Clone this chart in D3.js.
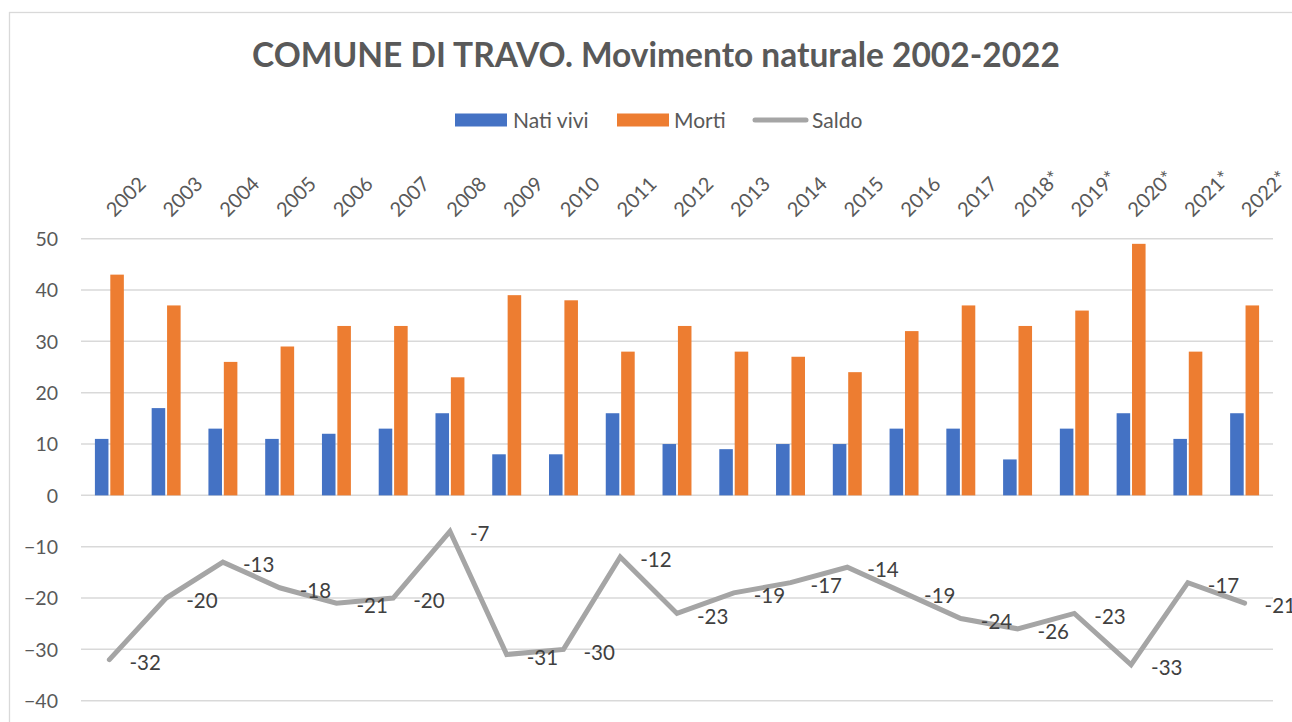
<!DOCTYPE html>
<html>
<head>
<meta charset="utf-8">
<script src="https://cdn.jsdelivr.net/npm/d3@7"></script>
<style>
  html, body { margin: 0; padding: 0; background: #fff; }
  svg { display: block; }
  text { font-family: Lato, "Open Sans", sans-serif; }
</style>
</head>
<body>
<svg id="chart" width="1292" height="722"></svg>
<script>
const categories = ["2002","2003","2004","2005","2006","2007","2008","2009","2010","2011","2012","2013","2014","2015","2016","2017","2018*","2019*","2020*","2021*","2022*"];
const natiVivi = [11,17,13,11,12,13,16,8,8,16,10,9,10,10,13,13,7,13,16,11,16];
const morti    = [43,37,26,29,33,33,23,39,38,28,33,28,27,24,32,37,33,36,49,28,37];
const saldo    = [-32,-20,-13,-18,-21,-20,-7,-31,-30,-12,-23,-19,-17,-14,-19,-24,-26,-23,-33,-17,-21];
const yTicks   = [-40,-30,-20,-10,0,10,20,30,40,50];
const seriesNames = ["Nati vivi","Morti","Saldo"];
const colors = ["#4472c4","#ed7d31","#a5a5a5"];
const titleText = "COMUNE DI TRAVO. Movimento naturale 2002-2022";

const svg = d3.select("#chart");

// outer chart border (extends past the visible area on right/bottom)
svg.append("rect")
  .attr("x", 9.5).attr("y", 12.5)
  .attr("width", 1400).attr("height", 800)
  .attr("fill", "#fff").attr("stroke", "#d9d9d9").attr("stroke-width", 1.3);

const plotLeft = 81, plotRight = 1273;
const x = d3.scaleBand().domain(categories).range([plotLeft, plotRight]).paddingInner(0.49).paddingOuter(0.245);
const x1 = d3.scaleBand().domain(["nati","morti"]).range([0, x.bandwidth()]).paddingInner(0.12);
const y = d3.scaleLinear().domain([-40, 50]).range([700.7, 238.7]);
const cx = c => x(c) + x.bandwidth() / 2;

// gridlines
svg.append("g").selectAll("line").data(yTicks).join("line")
  .attr("x1", plotLeft).attr("x2", plotRight)
  .attr("y1", d => y(d)).attr("y2", d => y(d))
  .attr("stroke", "#d9d9d9").attr("stroke-width", 1.5);

// y axis labels
const yAxis = d3.axisLeft(y).tickValues(yTicks).tickSize(0).tickPadding(0);
const gy = svg.append("g").attr("transform", "translate(58,0)").call(yAxis);
gy.select(".domain").remove();
gy.selectAll("text").attr("font-size", 19.5).attr("fill", "#595959")
  .attr("font-family", "Lato, 'Open Sans', sans-serif").attr("dy", "0.34em");

// x labels at top, rotated
const xAxis = d3.axisTop(x).tickSize(0).tickPadding(0);
const gx = svg.append("g").attr("transform", "translate(0,218)").call(xAxis);
gx.select(".domain").remove();
gx.selectAll("text")
  .attr("font-size", 20).attr("fill", "#595959")
  .attr("font-family", "Lato, 'Open Sans', sans-serif")
  .attr("text-anchor", "start")
  .attr("transform", "translate(5,0) rotate(-45)")
  .attr("x", 0).attr("y", 0).attr("dy", 0);

// bars
svg.append("g").selectAll("rect").data(categories).join("rect")
  .attr("x", c => x(c) + x1("nati"))
  .attr("width", x1.bandwidth())
  .attr("y", (c, i) => y(natiVivi[i]))
  .attr("height", (c, i) => y(0) - y(natiVivi[i]))
  .attr("fill", colors[0]);
svg.append("g").selectAll("rect").data(categories).join("rect")
  .attr("x", c => x(c) + x1("morti"))
  .attr("width", x1.bandwidth())
  .attr("y", (c, i) => y(morti[i]))
  .attr("height", (c, i) => y(0) - y(morti[i]))
  .attr("fill", colors[1]);

// saldo line
const line = d3.line().x((d, i) => cx(categories[i])).y(d => y(d));
svg.append("path").datum(saldo)
  .attr("d", line)
  .attr("fill", "none").attr("stroke", colors[2]).attr("stroke-width", 5)
  .attr("stroke-linejoin", "miter").attr("stroke-linecap", "round");

// data labels
svg.append("g").selectAll("text").data(saldo).join("text")
  .attr("x", (d, i) => cx(categories[i]) + 20)
  .attr("y", d => y(d) + 3)
  .attr("dy", "0.35em")
  .attr("font-size", 20.5).attr("fill", "#404040")
  .text(d => d);

// title
svg.append("text")
  .attr("x", 656).attr("y", 67)
  .attr("text-anchor", "middle")
  .attr("font-size", 33.5).attr("font-weight", 700).attr("fill", "#595959")
  .text(titleText);

// legend
const lg = svg.append("g");
const legendItems = [
  {name: seriesNames[0], sx: 455, tx: 513, type: "rect", color: colors[0]},
  {name: seriesNames[1], sx: 617, tx: 674, type: "rect", color: colors[1]},
  {name: seriesNames[2], sx: 755, tx: 812, type: "line", color: colors[2]}
];
legendItems.forEach(it => {
  if (it.type === "rect") {
    lg.append("rect").attr("x", it.sx).attr("y", 113.5).attr("width", 52).attr("height", 13).attr("fill", it.color);
  } else {
    lg.append("line").attr("x1", it.sx).attr("x2", it.sx + 51).attr("y1", 120).attr("y2", 120)
      .attr("stroke", it.color).attr("stroke-width", 5).attr("stroke-linecap", "round");
  }
  lg.append("text").attr("x", it.tx).attr("y", 127.5).attr("font-size", 21).attr("fill", "#595959").text(it.name);
});
</script>
</body>
</html>
